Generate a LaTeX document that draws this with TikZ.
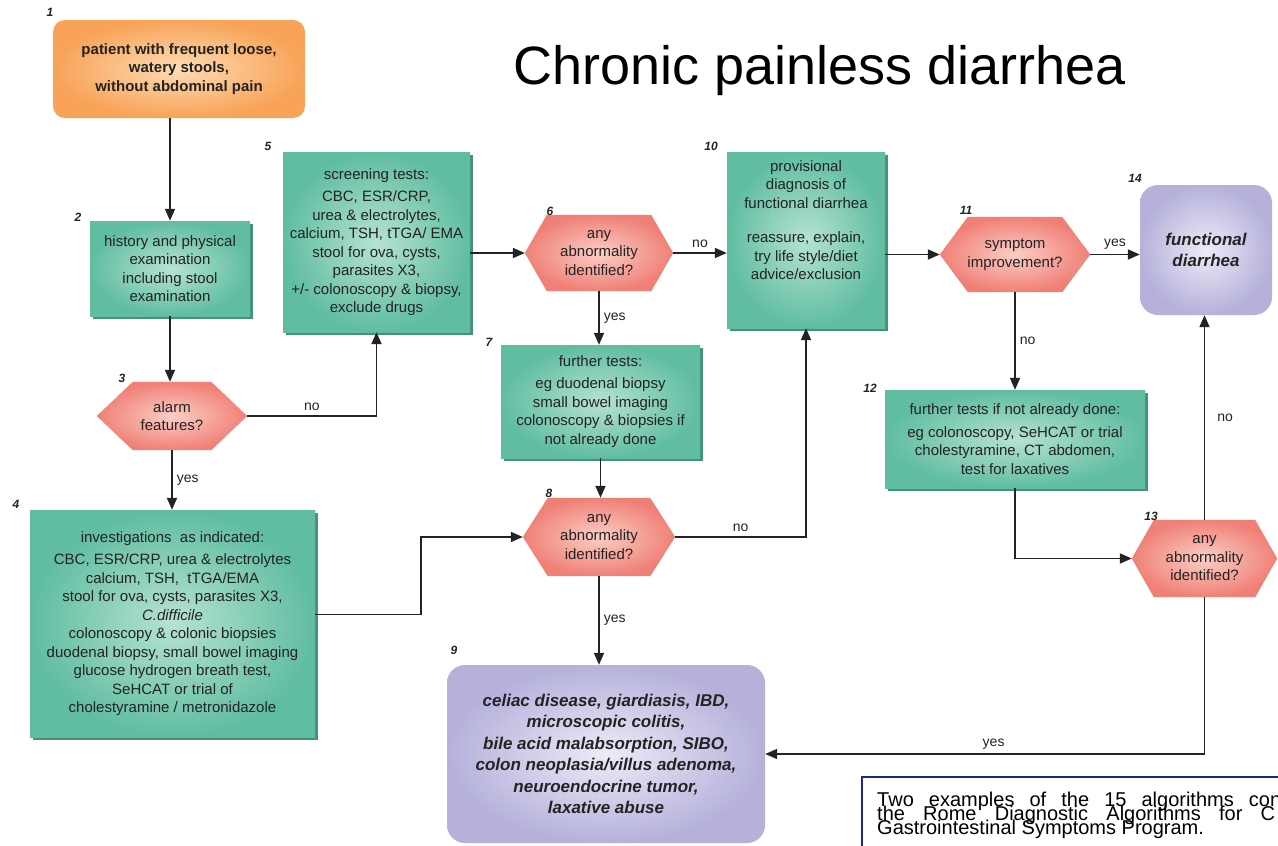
\documentclass[tikz,border=0pt]{standalone}
\usepackage{fontspec}
\setmainfont{Liberation Sans}
\usetikzlibrary{arrows.meta,shadows,backgrounds,calc}

\definecolor{tealout}{RGB}{96,189,161}
\definecolor{tealin}{RGB}{182,226,212}
\definecolor{tealdark}{RGB}{66,146,124}
\definecolor{salmonout}{RGB}{240,128,118}
\definecolor{salmonin}{RGB}{251,206,198}
\definecolor{orangeout}{RGB}{248,163,88}
\definecolor{orangein}{RGB}{253,220,180}
\definecolor{lilacout}{RGB}{181,177,219}
\definecolor{lilacin}{RGB}{236,235,247}
\definecolor{inkgrey}{RGB}{35,35,35}
\definecolor{capblue}{RGB}{30,40,130}

\def\boxFont{\fontsize{15}{18.5}\selectfont}
\def\bigFont{\fontsize{17}{21.5}\selectfont}
\def\stepFont{\fontsize{12}{12}\selectfont\bfseries\itshape}
\def\labelFont{\fontsize{14}{14}\selectfont}
\def\capFont{\fontsize{20}{20}\selectfont}
\def\drawHex#1#2{
\shade[inner color=salmonin, outer color=salmonout] (#1.west) -- ([xshift=#2]#1.north west) -- ([xshift=-#2]#1.north east) -- (#1.east) -- ([xshift=-#2]#1.south east) -- ([xshift=#2]#1.south west) -- cycle;
}

\begin{document}
\begin{tikzpicture}[x=1pt, y=-1pt,
	greenbox/.style={rectangle, inner color=tealin, outer color=tealout, drop shadow={shadow xshift=3pt, shadow yshift=-3pt, fill=tealdark, opacity=1}, align=center, inner sep=0pt, text=inkgrey, font=\boxFont},
	hexbox/.style={rectangle, inner sep=0pt, align=center, text=inkgrey, font=\boxFont},
	orangebox/.style={rectangle, rounded corners=12pt, inner color=orangein, outer color=orangeout, align=center, inner sep=0pt, text=inkgrey, font=\boxFont\bfseries},
	lilacbox/.style={rectangle, rounded corners=18pt, inner color=lilacin, outer color=lilacout, align=center, inner sep=0pt, text=inkgrey, font=\bigFont\bfseries\itshape},
	stepnum/.style={inner sep=0pt, text=inkgrey, font=\stepFont},
	lbl/.style={inner sep=4pt, text=inkgrey, font=\labelFont},
	capline/.style={anchor=base west, inner sep=0pt, font=\capFont},
	arr/.style={draw=inkgrey, line width=1.8pt, -{Triangle[length=12pt,width=10pt]}}]
\useasboundingbox (0,0) rectangle (1278,846);

% title
\node[anchor=base, inner sep=0pt, font=\fontsize{54}{60}\selectfont] (title) at (820,84) {Chronic painless diarrhea};

% boxes
\node[orangebox, minimum width=252, minimum height=98] (b1) at (179,69) {patient with frequent loose,\\ watery stools,\\ without abdominal pain};
\node[greenbox, minimum width=160, minimum height=95] (b2) at (170,268.5) {history and physical\\ examination\\ including stool\\ examination};
\node[hexbox, minimum width=150, minimum height=68] (h3) at (172,416) {alarm\\ features?};
\node[greenbox, minimum width=285, minimum height=227] (b4) at (172.5,623.5) {investigations\ \ as indicated:\\[4pt] CBC, ESR/CRP, urea \& electrolytes\\ calcium, TSH,\ \ tTGA/EMA\\ stool for ova, cysts, parasites X3,\\ \textit{C.difficile}\\ colonoscopy \& colonic biopsies\\ duodenal biopsy, small bowel imaging\\ glucose hydrogen breath test,\\ SeHCAT or trial of\\ cholestyramine / metronidazole};
\node[greenbox, minimum width=187, minimum height=180] (b5) at (376.5,242) {screening tests:\\[4pt] CBC, ESR/CRP,\\ urea \& electrolytes,\\ calcium, TSH, tTGA/ EMA\\ stool for ova, cysts,\\ parasites X3,\\ +/- colonoscopy \& biopsy,\\ exclude drugs};
\node[hexbox, minimum width=148, minimum height=76] (h6) at (599,253) {any\\ abnormality\\ identified?};
\node[greenbox, minimum width=199, minimum height=113] (b7) at (600.5,401.5) {further tests:\\[4pt] eg duodenal biopsy\\ small bowel imaging\\ colonoscopy \& biopsies if\\ not already done};
\node[hexbox, minimum width=152, minimum height=78] (h8) at (599,537) {any\\ abnormality\\ identified?};
\node[lilacbox, minimum width=318, minimum height=178] (b9) at (606,754) {celiac disease, giardiasis, IBD,\\ microscopic colitis,\\ bile acid malabsorption, SIBO,\\ colon neoplasia/villus adenoma,\\ neuroendocrine tumor,\\ laxative abuse};
\node[greenbox, minimum width=158, minimum height=176, text depth=40pt] (b10) at (806,240) {provisional\\ diagnosis of\\ functional diarrhea\\[16pt] reassure, explain,\\ try life style/diet\\ advice/exclusion};
\node[hexbox, minimum width=150, minimum height=75] (h11) at (1015,254.5) {symptom\\ improvement?};
\node[greenbox, minimum width=260, minimum height=98] (b12) at (1015,439) {further tests if not already done:\\[4pt] eg colonoscopy, SeHCAT or trial\\ cholestyramine, CT abdomen,\\ test for laxatives};
\node[hexbox, minimum width=145, minimum height=77] (h13) at (1204.5,558.5) {any\\ abnormality\\ identified?};
\node[lilacbox, minimum width=132, minimum height=130] (b14) at (1206,250) {functional\\ diarrhea};

% hexagon fills
\begin{pgfonlayer}{background}
\fill[white] (0,0) rectangle (1278,846);
\drawHex{h3}{36}
\drawHex{h6}{22}
\drawHex{h8}{25}
\drawHex{h11}{28}
\drawHex{h13}{22}
\end{pgfonlayer}

% step numbers
\node[stepnum] (n1) at (50,12) {1};
\node[stepnum] (n2) at (78,217) {2};
\node[stepnum] (n3) at (122,378) {3};
\node[stepnum] (n4) at (16,504) {4};
\node[stepnum] (n5) at (268,146) {5};
\node[stepnum] (n6) at (550,211) {6};
\node[stepnum] (n7) at (489,342) {7};
\node[stepnum] (n8) at (549,493) {8};
\node[stepnum] (n9) at (454,650) {9};
\node[stepnum] (n10) at (711,146) {10};
\node[stepnum] (n11) at (966,210) {11};
\node[stepnum] (n12) at (870,388) {12};
\node[stepnum] (n13) at (1151,516) {13};
\node[stepnum] (n14) at (1135,178) {14};

% connectors
\draw[arr] (b2.north |- b1.south) -- (b2.north);
\draw[arr] (b2.south) -- (b2.south |- h3.north);
\draw[arr] (h3.east) -| node[lbl, above, pos=0.25] {no} (b5.south);
\draw[arr] (h3.south) -- node[lbl, right] {yes} (h3.south |- b4.north);
\draw[arr] (b5.east |- h6.west) -- (h6.west);
\draw[arr] (h6.east) -- node[lbl, above] {no} (h6.east -| b10.west);
\draw[arr] (h6.south) -- node[lbl, right] {yes} (h6.south |- b7.north);
\draw[arr] (b7.south) -- (b7.south |- h8.north);
\draw[arr] (h8.east) -| node[lbl, above, pos=0.25] {no} (b10.south);
\draw[arr] (h8.south) -- node[lbl, right] {yes} (h8.south |- b9.north);
\draw[arr] ([yshift=9pt]b4.east) -- ++(106,0) |- (h8.west);
\draw[arr] (b10.east |- h11.west) -- (h11.west);
\draw[arr] (h11.east) -- node[lbl, above] {yes} (h11.east -| b14.west);
\draw[arr] (h11.south) -- node[lbl, right] {no} (h11.south |- b12.north);
\draw[arr] (b12.south) |- (h13.west);
\draw[arr] (h13.north) -- node[lbl, right, xshift=8pt] {no} (h13.north |- b14.south);
\draw[arr] (h13.south) |- node[lbl, above, pos=0.74] {yes} (b9.east);

% caption
\begin{scope}
\clip (0,0) rectangle (1278,846);
\draw[capblue, line width=2pt] (862,777) rectangle (1300,860);
\node[capline] (cap1) at (877,806) {\makebox[404pt][s]{Two examples of the 15 algorithms con}};
\node[capline] (cap2) at (877,820) {\makebox[398pt][s]{the Rome Diagnostic Algorithms for C}};
\node[capline] (cap3) at (877,834) {Gastrointestinal Symptoms Program.};
\end{scope}
\end{tikzpicture}
\end{document}
